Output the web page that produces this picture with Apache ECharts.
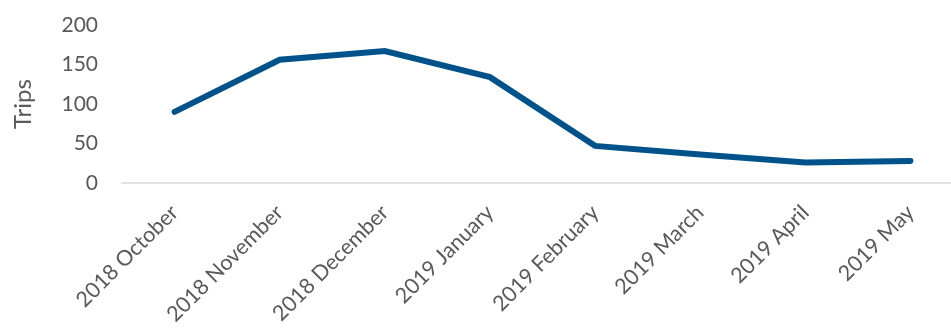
<!DOCTYPE html>
<html>
<head>
<meta charset="utf-8">
<script src="https://cdn.jsdelivr.net/npm/echarts@6/dist/echarts.min.js"></script>
<style>
  html, body { margin: 0; padding: 0; background: #fff; }
  #chart { width: 951px; height: 331px; }
</style>
</head>
<body>
<div id="chart"></div>
<script>
// Monthly trip counts
const months = ['2018 October', '2018 November', '2018 December', '2019 January',
                '2019 February', '2019 March', '2019 April', '2019 May'];
const trips = [90, 156, 167, 134, 47, 36, 26, 28];
const yTicks = [0, 50, 100, 150, 200];

const textColor = '#595959';
const fontFamily = 'Lato, sans-serif';

const chart = echarts.init(document.getElementById('chart'), null, { renderer: 'canvas' });
chart.setOption({
  animation: false,
  grid: {
    left: 122, top: 25, width: 841, height: 158,
    containLabel: false,
    outerBoundsMode: 'none'
  },
  xAxis: {
    type: 'category',
    data: months,
    boundaryGap: true,
    axisLine: { lineStyle: { color: '#d9d9d9', width: 1.5 } },
    axisTick: { show: false },
    axisLabel: {
      rotate: 45,
      margin: 26,
      color: textColor,
      fontSize: 21.5,
      fontFamily: fontFamily
    }
  },
  yAxis: {
    type: 'value',
    min: yTicks[0],
    max: yTicks[yTicks.length - 1],
    interval: 50,
    name: 'Trips',
    nameLocation: 'middle',
    nameGap: 87,
    nameRotate: 90,
    nameTextStyle: { color: textColor, fontSize: 24, fontFamily: fontFamily },
    splitLine: { show: false },
    axisLine: { show: false },
    axisTick: { show: false },
    axisLabel: { color: textColor, fontSize: 21, fontFamily: fontFamily, margin: 24 }
  },
  series: [{
    type: 'line',
    data: trips,
    symbol: 'none',
    lineStyle: { color: '#00538A', width: 6, cap: 'round', join: 'miter' }
  }]
});
</script>
</body>
</html>
